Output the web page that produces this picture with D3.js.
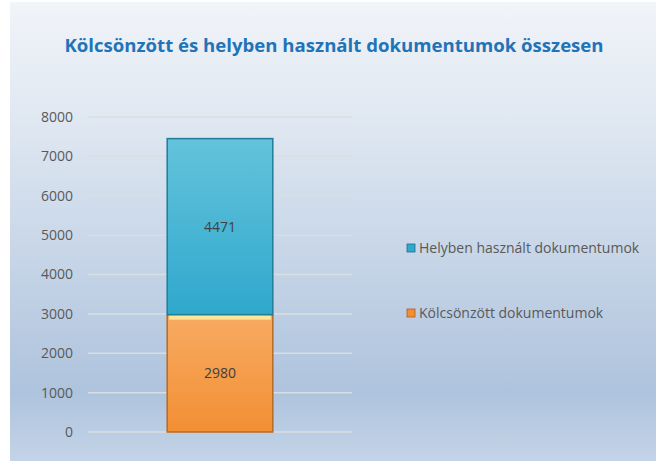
<!DOCTYPE html>
<html>
<head>
<meta charset="utf-8">
<script src="https://cdn.jsdelivr.net/npm/d3@7"></script>
<style>
  body { margin: 0; background: #fff; }
  text { font-family: "Open Sans", "Noto Sans", sans-serif; }
</style>
</head>
<body>
<svg id="chart" width="658" height="461"></svg>
<script>
// data
const category = ['Összesen'];
const seriesNames = ['Kölcsönzött dokumentumok', 'Helyben használt dokumentumok'];
const kolcsonzott = [2980];
const helyben = [4471];
const yTicks = [0, 1000, 2000, 3000, 4000, 5000, 6000, 7000, 8000];

const svg = d3.select('#chart');
const defs = svg.append('defs');

// background gradient
const bg = defs.append('linearGradient').attr('id', 'bg')
    .attr('x1', 0).attr('y1', 0).attr('x2', 0).attr('y2', 1);
bg.append('stop').attr('offset', '0%').attr('stop-color', '#f1f4f8');
bg.append('stop').attr('offset', '25%').attr('stop-color', '#e0e8f2');
bg.append('stop').attr('offset', '85%').attr('stop-color', '#aec3dd');
bg.append('stop').attr('offset', '100%').attr('stop-color', '#c4d4e7');

svg.append('rect')
    .attr('x', 10).attr('y', 2)
    .attr('width', 646).attr('height', 459)
    .attr('fill', 'url(#bg)');

// bar gradients
const blue = defs.append('linearGradient').attr('id', 'blue')
    .attr('x1', 0).attr('y1', 0).attr('x2', 0).attr('y2', 1);
blue.append('stop').attr('offset', '0%').attr('stop-color', '#64c3dc');
blue.append('stop').attr('offset', '100%').attr('stop-color', '#2fa8cc');

const orange = defs.append('linearGradient').attr('id', 'orange')
    .attr('x1', 0).attr('y1', 0).attr('x2', 0).attr('y2', 1);
orange.append('stop').attr('offset', '0%').attr('stop-color', '#f8ab62');
orange.append('stop').attr('offset', '100%').attr('stop-color', '#f28f34');

// title
svg.append('text')
    .attr('x', 334)
    .attr('y', 52)
    .attr('text-anchor', 'middle')
    .attr('fill', '#1f74b9')
    .style('font-size', '18.6px')
    .style('font-weight', 'bold')
    .text('Kölcsönzött és helyben használt dokumentumok összesen');

// scales
const x = d3.scaleBand().domain(category).range([88, 352])
    .paddingInner(0.6).paddingOuter(0.3);
const y = d3.scaleLinear().domain([0, 8000]).range([432, 117]);

// gridlines
svg.append('g')
    .selectAll('line')
    .data(yTicks)
    .join('line')
    .attr('x1', 88).attr('x2', 352)
    .attr('y1', d => y(d)).attr('y2', d => y(d))
    .attr('stroke', '#dadde2')
    .attr('stroke-width', 1.5);

// y axis
const yAxis = svg.append('g')
    .attr('transform', 'translate(78,0)')
    .call(d3.axisLeft(y).tickValues(yTicks).tickFormat(d3.format('d')).tickSize(0).tickPadding(5));
yAxis.select('.domain').remove();
yAxis.selectAll('text')
    .attr('fill', '#595959')
    .style('font-size', '14px')
    .style('font-family', '"Open Sans", sans-serif');

// stacked bars
const rows = category.map((c, i) => ({ cat: c, k: kolcsonzott[i], h: helyben[i] }));
const stack = d3.stack().keys(['k', 'h'])(rows);
const fills = ['url(#orange)', 'url(#blue)'];
const strokes = ['#b76a25', '#1f7d98'];

stack.forEach((layer, li) => {
    const g = svg.append('g');
    g.selectAll('rect')
        .data(layer)
        .join('rect')
        .attr('x', d => x(d.data.cat))
        .attr('y', d => y(d[1]))
        .attr('width', x.bandwidth())
        .attr('height', d => y(d[0]) - y(d[1]))
        .attr('fill', fills[li])
        .attr('stroke', strokes[li])
        .attr('stroke-width', 1.5);
    g.selectAll('text')
        .data(layer)
        .join('text')
        .attr('x', d => x(d.data.cat) + x.bandwidth() / 2)
        .attr('y', d => y((d[0] + d[1]) / 2) + 5)
        .attr('text-anchor', 'middle')
        .attr('fill', '#404040')
        .style('font-size', '14px')
        .text(d => d[1] - d[0]);
});

// bevel highlight at top of orange bar
svg.append('rect')
    .attr('x', x(category[0]) + 2)
    .attr('y', y(kolcsonzott[0]) + 1)
    .attr('width', x.bandwidth() - 4)
    .attr('height', 4)
    .attr('fill', '#fde59a');

// legend
const legendItems = [
    { name: seriesNames[1], fill: '#2fa8cc', stroke: '#1f6f8a', y: 248 },
    { name: seriesNames[0], fill: '#f28f34', stroke: '#b45a1a', y: 313 }
];
const legend = svg.append('g').selectAll('g')
    .data(legendItems)
    .join('g')
    .attr('transform', d => `translate(407,${d.y})`);
legend.append('rect')
    .attr('x', 0).attr('y', -4)
    .attr('width', 8).attr('height', 8)
    .attr('fill', d => d.fill)
    .attr('stroke', d => d.stroke)
    .attr('stroke-width', 0.8);
legend.append('text')
    .attr('x', 12)
    .attr('y', 5)
    .attr('fill', '#595959')
    .style('font-size', '14px')
    .text(d => d.name);
</script>
</body>
</html>
